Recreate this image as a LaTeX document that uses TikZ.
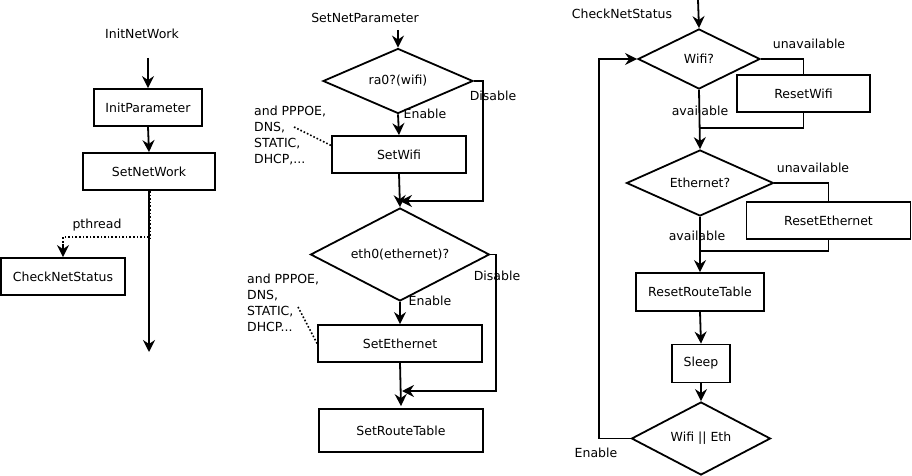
\documentclass[tikz,border=0pt]{standalone}
\usepackage{fontspec}
\setmainfont{DejaVu Sans}
\usetikzlibrary{shapes.geometric,arrows.meta}
\begin{document}
\begin{tikzpicture}[x=1pt,y=-1pt,
  font=\fontsize{12.5}{16}\selectfont,
  box/.style={draw,line width=1.8pt,inner sep=0pt},
  dec/.style={draw,diamond,shape aspect=2,line width=1.8pt,inner sep=0pt},
  lbl/.style={inner sep=0pt},
  ln/.style={line width=1.8pt},
  arr/.style={line width=1.8pt,-{Stealth[length=12pt,width=12pt,inset=4pt]}},
  dot/.style={line width=1.6pt,dotted}]
\useasboundingbox (0,0) rectangle (912,476);

% ---------- left column ----------
\node[lbl] (inw) at (142,34) {InitNetWork};
\node[box,minimum width=108,minimum height=37] (ip) at (148,107.5) {InitParameter};
\node[box,minimum width=132,minimum height=37] (sn) at (149,171.5) {SetNetWork};
\node[box,minimum width=124,minimum height=37] (cns) at (63,276.5) {CheckNetStatus};
\node[lbl] (pth) at (97,225) {pthread};
\coordinate (ipin) at (148,58);
\coordinate (snend) at (149,352);
\coordinate (pt) at (149,237);
\draw[arr] (ipin) -- (ip.north);
\draw[arr] (ip.south) -- (sn.north);
\draw[arr] (sn.south) -- (snend);
\draw[dot] (sn.south) ++(1.5,0) -- ++(0,47);
\draw[dot] (pt) -| (63,244);
\draw[arr] (63,244) -- (cns.north);

% ---------- middle column ----------
\node[lbl] (snp) at (365,18) {SetNetParameter};
\node[dec,minimum width=150,minimum height=65] (ra0) at (398,81) {ra0?(wifi)};
\node[box,minimum width=134,minimum height=37] (swifi) at (399,154.5) {SetWifi};
\node[dec,minimum width=179,minimum height=93] (eth) at (400,254.5) {eth0(ethernet)?};
\node[box,minimum width=164,minimum height=37] (seth) at (400,343.5) {SetEthernet};
\node[box,minimum width=164,minimum height=43] (srt) at (401,430.5) {SetRouteTable};
\node[lbl] (en1) at (425,114) {Enable};
\node[lbl] (dis1) at (493,96) {Disable};
\node[lbl] (en2) at (430,301) {Enable};
\node[lbl] (dis2) at (497,276) {Disable};
\node[lbl,anchor=north west,align=left] (n1) at (254,106) {and PPPOE,\\DNS,\\STATIC,\\DHCP,...};
\node[lbl,anchor=north west,align=left] (n2) at (247,274) {and PPPOE,\\DNS,\\STATIC,\\DHCP...};
\coordinate (snpin) at (398,30);
\coordinate (d1c) at (483,201);
\coordinate (j1) at (400,201);
\coordinate (d2c) at (496,391);
\coordinate (j2) at (402,391);
\coordinate (n1e) at (294,127);
\coordinate (n2e) at (298,307);
\draw[arr] (snpin) -- (ra0.north);
\draw[arr] (ra0.south) -- (swifi.north);
\draw[arr] (ra0.east) -| (d1c) -- (j1);
\draw[arr] (swifi.south) -- (eth.north);
\draw[arr] (eth.south) -- (seth.north);
\draw[arr] (eth.east) -| (d2c) -- (j2);
\draw[arr] (seth.south) -- ([yshift=2pt]srt.north);
\draw[dot] (n1e) -- ([yshift=9pt]swifi.west);
\draw[dot] (n2e) -- (seth.west);

% ---------- right column ----------
\node[lbl] (chk) at (622,14) {CheckNetStatus};
\node[dec,minimum width=122,minimum height=60] (wifi) at (699,59) {Wifi?};
\node[box,minimum width=133,minimum height=37] (rw) at (803.5,93.5) {ResetWifi};
\node[dec,minimum width=147,minimum height=66] (ethq) at (700,183) {Ethernet?};
\node[box,minimum width=164,minimum height=37] (re) at (828.5,220.5) {ResetEthernet};
\node[box,minimum width=128,minimum height=38] (rrt) at (700,292) {ResetRouteTable};
\node[box,minimum width=58,minimum height=38] (sl) at (701,363.5) {Sleep};
\node[dec,minimum width=139,minimum height=73] (wfe) at (701,438.5) {Wifi || Eth};
\node[lbl] (un1) at (809,44) {unavailable};
\node[lbl] (av1) at (700,111) {available};
\node[lbl] (un2) at (813,168) {unavailable};
\node[lbl] (av2) at (697,236) {available};
\node[lbl] (enl) at (596,453) {Enable};
\coordinate (chkin) at (698,0);
\coordinate (j3) at (700,128);
\coordinate (j4) at (700,251);
\coordinate (lp) at (599,438.5);
\draw[arr] (chkin) -- (wifi.north);
\draw[ln] (wifi.east) -| (rw.north);
\draw[ln] (rw.south) |- (j3);
\draw[arr] (wifi.south) -- (ethq.north);
\draw[ln] (ethq.east) -| (re.north);
\draw[ln] (re.south) |- (j4);
\draw[arr] (ethq.south) -- (rrt.north);
\draw[arr] (rrt.south) -- (sl.north);
\draw[arr] (sl.south) -- (wfe.north);
\draw[arr] (wfe.west) -- (lp) |- (wifi.west);
\end{tikzpicture}
\end{document}
